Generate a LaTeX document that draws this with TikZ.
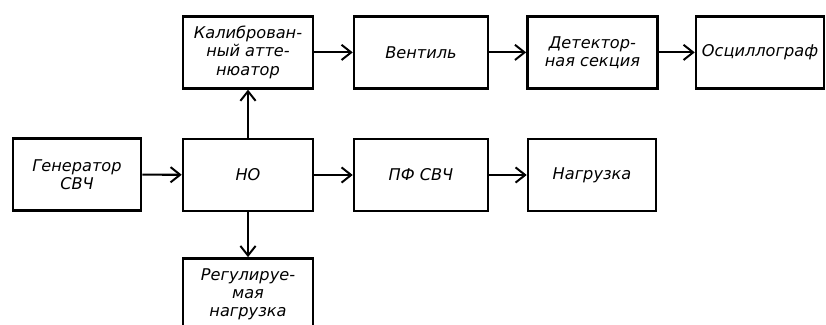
\documentclass[tikz,border=0pt]{standalone}
\usepackage{fontspec}
\setmainfont{DejaVu Sans}
\usepackage{tikz}
\usetikzlibrary{arrows.meta, positioning}

\begin{document}
\begin{tikzpicture}[
  blk/.style={draw, line width=1.8pt, minimum width=3.25cm, minimum height=1.8cm, align=center, inner sep=2pt, font=\fontsize{11.5}{13}\selectfont\itshape},
  link/.style={line width=1.5pt, -{Straight Barb[length=2.4mm, width=3.8mm, line width=1.4pt]}}
]
  \useasboundingbox (0,0) rectangle (20.65,-8.125);
  \node[blk] (att) at (6.2, -1.31) {Калиброван-\\ный атте-\\нюатор};
  \node[blk, minimum width=3.35cm] (vent) at (10.525, -1.31) {Вентиль};
  \node[blk] (det) at (14.81, -1.31) {Детектор-\\ная секция};
  \node[blk, minimum width=3.2cm] (osc) at (19.0, -1.31) {Осциллограф};
  \node[blk, minimum width=3.2cm] (gen) at (1.925, -4.36) {Генератор\\СВЧ};
  \node[blk] (ho) at (6.2, -4.375) {НО};
  \node[blk, minimum width=3.35cm] (pf) at (10.525, -4.375) {ПФ СВЧ};
  \node[blk, minimum width=3.2cm] (load) at (14.8, -4.375) {Нагрузка};
  \node[blk] (reg) at (6.2, -7.36) {Регулируе-\\мая\\нагрузка};

  \draw[link] (gen) -- (ho);
  \draw[link] (ho) -- (att);
  \draw[link] (ho) -- (reg);
  \draw[link] (ho) -- (pf);
  \draw[link] (pf) -- (load);
  \draw[link] (att) -- (vent);
  \draw[link] (vent) -- (det);
  \draw[link] (det) -- (osc);
\end{tikzpicture}
\end{document}
